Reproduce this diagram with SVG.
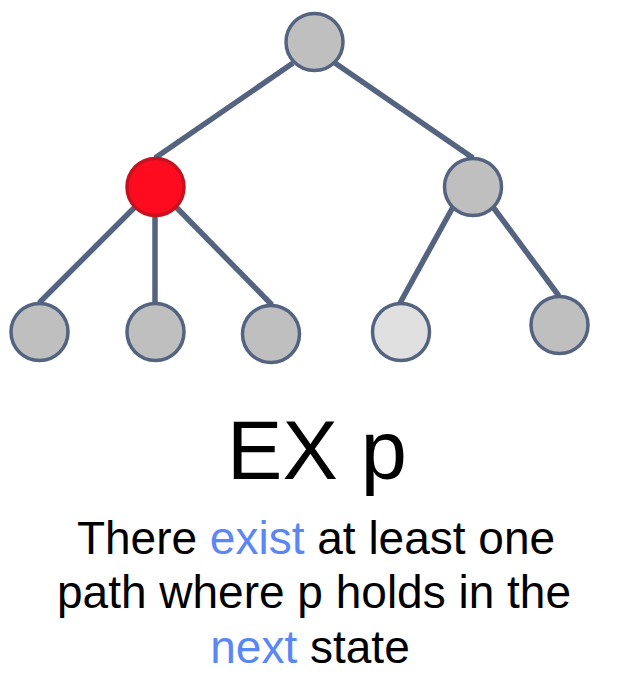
<svg xmlns="http://www.w3.org/2000/svg" width="632" height="700" viewBox="0 0 632 700">
<style>
.edge{stroke:#536380;stroke-width:5.5;stroke-linecap:butt;fill:none}
.node{stroke:#536380;stroke-width:3.5;fill:#bfbfbf}
.light{fill:#e0e0e0}
.red{fill:#ff0b1f;stroke:#c8111f}
text{font-family:"Liberation Sans",Arial,sans-serif;fill:#000;text-anchor:middle}
.hl{fill:#5b86f6}
</style>
<rect width="632" height="700" fill="#fff"/>
<g id="connectors">
<line class="edge" x1="293" y1="63" x2="155" y2="158"/>
<line class="edge" x1="335" y1="63" x2="473" y2="158"/>
<line class="edge" x1="136" y1="206" x2="39" y2="303"/>
<line class="edge" x1="155" y1="215" x2="155" y2="303"/>
<line class="edge" x1="175" y1="206" x2="272" y2="305"/>
<line class="edge" x1="453" y1="207" x2="400" y2="303"/>
<line class="edge" x1="493" y1="207" x2="559" y2="296"/>
</g>
<g id="n-root"><circle class="node" cx="314.5" cy="42" r="28.5"/></g>
<g id="n-left"><circle class="node red" cx="155.5" cy="187" r="28.5"/></g>
<g id="n-right"><circle class="node" cx="473" cy="187" r="28.5"/></g>
<g id="n-ll"><circle class="node" cx="39.5" cy="332" r="28.5"/></g>
<g id="n-lm"><circle class="node" cx="155.5" cy="332" r="28.5"/></g>
<g id="n-lr"><circle class="node" cx="271" cy="334" r="28.5"/></g>
<g id="n-rl"><circle class="node light" cx="401" cy="332" r="28.5"/></g>
<g id="n-rr"><circle class="node" cx="559.5" cy="325" r="28.5"/></g>
<g id="labels">
<text x="317" y="479" font-size="83">EX p</text>
<text x="316" y="554" font-size="46">There <tspan class="hl">exist</tspan> at least one</text>
<text x="314" y="608" font-size="46">path where p holds in the</text>
<text x="310" y="663" font-size="46"><tspan class="hl">next</tspan> state</text>
</g>
</svg>
